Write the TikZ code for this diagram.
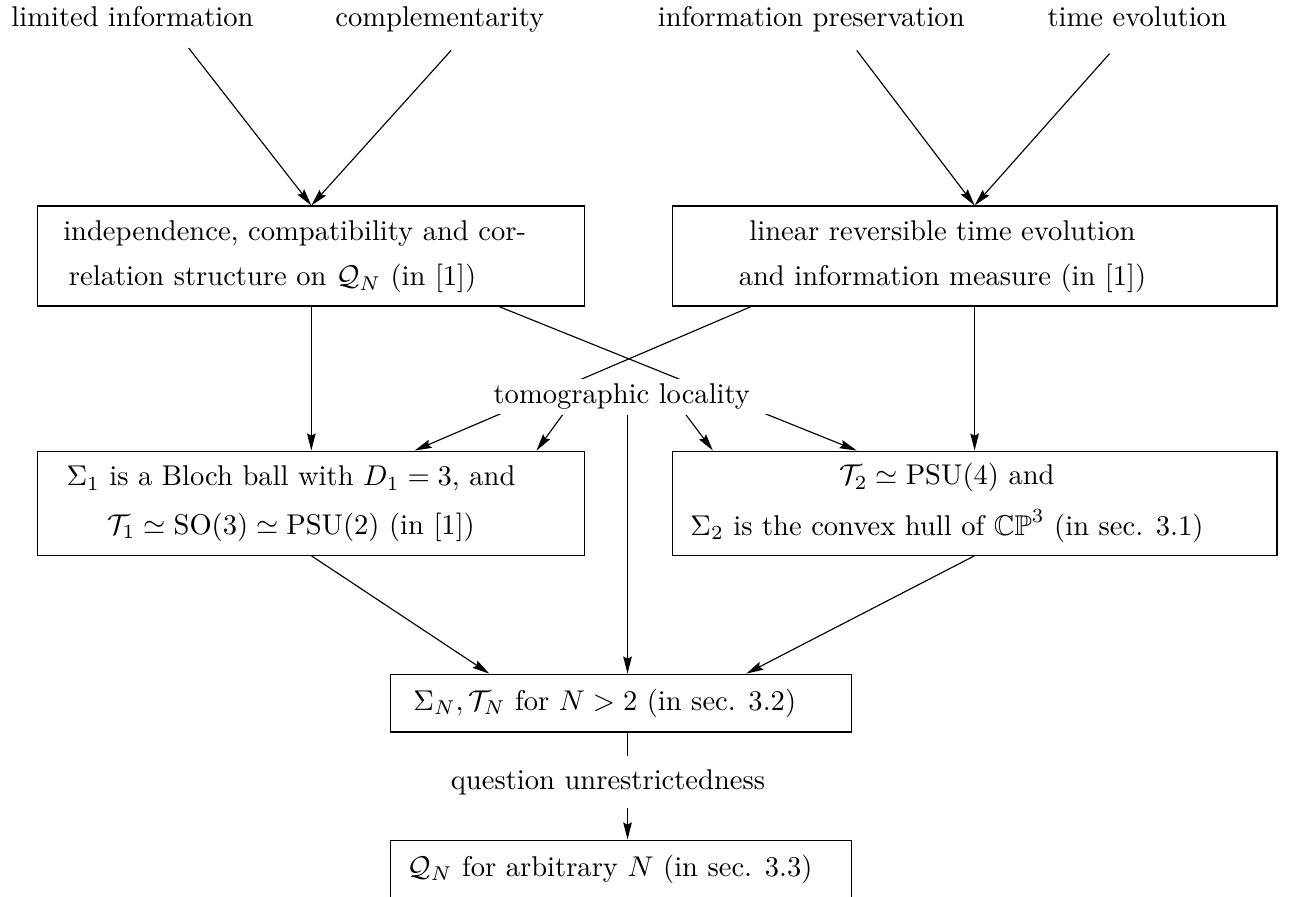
\documentclass[tikz,border=0pt]{standalone}
\usepackage{amsmath,amssymb}
\usetikzlibrary{arrows.meta}
\tikzset{
  box/.style={draw, inner sep=0pt, minimum width=#1},
  arr/.style={-{Stealth[length=6pt,width=3pt,inset=0.8pt]}},
}
\begin{document}
\begin{tikzpicture}
        \useasboundingbox (0,0) rectangle (15.87,-11.03);
        % Ipotesi in alto
        \node[anchor=base] (lim) at (1.63,-0.33) {limited information};
        \node[anchor=base] (comp) at (5.41,-0.33) {complementarity};
        \node[anchor=base] (pres) at (9.98,-0.33) {information preservation};
        \node[anchor=base] (tev) at (13.99,-0.33) {time evolution};
        \coordinate (lim-s) at (2.32,-0.59);
        \coordinate (comp-s) at (5.55,-0.62);
        \coordinate (pres-s) at (10.54,-0.62);
        \coordinate (tev-s) at (13.65,-0.66);

        % Scatole
        \node[box=6.73cm, minimum height=1.23cm] (indep) at (3.83,-3.15)
          {\begin{tabular}{@{}l@{}}independence, compatibility and cor-\\[4pt]\hspace*{2pt}relation structure on $\mathcal{Q}_N$ (in [1])\end{tabular}\hspace*{0.41cm}};
        \node[box=7.44cm, minimum height=1.23cm] (lin) at (11.99,-3.15)
          {\begin{tabular}{@{}c@{}}linear reversible time evolution\\[4pt]and information measure (in [1])\end{tabular}\hspace*{0.79cm}};
        \node[box=6.73cm, minimum height=1.28cm] (bloch) at (3.83,-6.19)
          {\begin{tabular}{@{}c@{}}$\Sigma_1$ is a Bloch ball with $D_1=3$, and\\[5pt]$\mathcal{T}_1\simeq\mathrm{SO}(3)\simeq\mathrm{PSU}(2)$ (in [1])\end{tabular}\hspace*{0.5cm}};
        \node[box=7.44cm, minimum height=1.28cm] (psu) at (11.99,-6.19)
          {\begin{tabular}{@{}c@{}}$\mathcal{T}_2\simeq\mathrm{PSU}(4)$ and\\[5pt]$\Sigma_2$ is the convex hull of $\mathbb{CP}^3$ (in sec. 3.1)\end{tabular}\hspace*{0.68cm}};
        \node[box=5.67cm, minimum height=0.71cm] (sig) at (7.64,-8.65)
          {$\Sigma_N,\mathcal{T}_N$ for $N>2$ (in sec. 3.2)\hspace*{0.4cm}};
        \node[box=5.67cm, minimum height=0.71cm] (qn) at (7.64,-10.69)
          {$\mathcal{Q}_N$ for arbitrary $N$ (in sec. 3.3)\hspace*{0.27cm}};

        \draw[arr] (lim-s) -- (indep.north);
        \draw[arr] (comp-s) -- (indep.north);
        \draw[arr] (pres-s) -- (lin.north);
        \draw[arr] (tev-s) -- (lin.north);
        \draw[arr] (indep.south) -- (bloch.north);
        \draw[arr] (lin.south) -- (psu.north);

        % Linee incrociate sotto la scritta
        \draw[arr] ([xshift=2.31cm]indep.south) -- ([xshift=-1.45cm]psu.north);
        \draw[arr] ([xshift=-2.75cm]lin.south) -- ([xshift=1.27cm]bloch.north);
        \node[fill=white, inner xsep=6pt, inner ysep=1.7pt] (tomo) at (7.65,-4.88) {tomographic locality};
        \draw[arr] ([xshift=-0.73cm]tomo.south) -- ([xshift=2.77cm]bloch.north);
        \draw[arr] ([xshift=0.79cm]tomo.south) -- ([xshift=-3.22cm]psu.north);
        \draw[arr] ([xshift=0.07cm]tomo.south) -- ([xshift=0.08cm]sig.north);

        \draw[arr] (bloch.south) -- ([xshift=-1.62cm]sig.north);
        \draw[arr] (psu.south) -- ([xshift=1.54cm]sig.north);

        \node[inner ysep=4.5pt] (quest) at (7.48,-9.62) {question unrestrictedness};
        \draw ([xshift=0.08cm]sig.south) -- ([xshift=0.24cm]quest.north);
        \draw[arr] ([xshift=0.24cm]quest.south) -- ([xshift=0.08cm]qn.north);
\end{tikzpicture}
\end{document}
